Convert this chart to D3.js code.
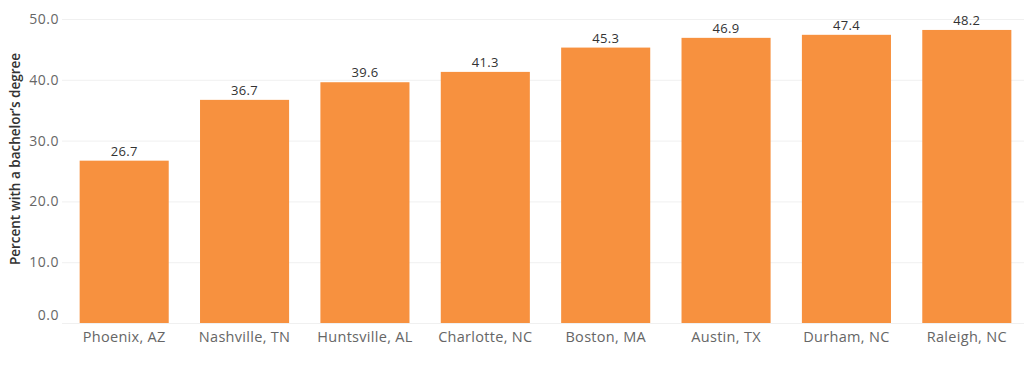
<!DOCTYPE html>
<html>
<head>
<meta charset="utf-8">
<script src="https://cdn.jsdelivr.net/npm/d3@7"></script>
<style>
  body { margin: 0; background: #fff; }
  #viz text { font-family: "Open Sans", "Noto Sans", sans-serif; }
</style>
</head>
<body>
<div id="viz"></div>
<script>
// data
const cities = ["Phoenix, AZ", "Nashville, TN", "Huntsville, AL", "Charlotte, NC",
                "Boston, MA", "Austin, TX", "Durham, NC", "Raleigh, NC"];
const pctBachelor = [26.7, 36.7, 39.6, 41.3, 45.3, 46.9, 47.4, 48.2];
const yTicks = [0, 10, 20, 30, 40, 50];

document.addEventListener("DOMContentLoaded", () => {
    const width = 1024;
    const height = 372;

    const svg = d3.select("#viz")
        .append("svg")
        .attr("width", width)
        .attr("height", height);

    const x = d3.scaleBand()
        .domain(cities)
        .range([64, 1027])
        .paddingInner(0.26)
        .paddingOuter(0.13);

    const y = d3.scaleLinear()
        .domain([0, 50])
        .range([323, 19]);

    // grid lines
    svg.append("g")
        .selectAll("line")
        .data(yTicks)
        .join("line")
        .attr("x1", 62)
        .attr("x2", width)
        .attr("y1", d => y(d) + 0.5)
        .attr("y2", d => y(d) + 0.5)
        .attr("stroke", "#f0f0f0")
        .attr("stroke-width", 1);

    // y axis tick labels
    const yAxis = svg.append("g")
        .attr("transform", "translate(59,0)")
        .call(d3.axisLeft(y).tickValues(yTicks).tickFormat(d3.format(".1f")).tickSize(0).tickPadding(0));
    yAxis.select(".domain").remove();
    yAxis.selectAll("text")
        .attr("fill", "#666")
        .style("font-size", "14px")
        .style("letter-spacing", "0.5px")
        .attr("dy", d => d === 0 ? "-0.25em" : "0.32em");

    // y axis title
    svg.append("text")
        .attr("transform", "translate(20,159) rotate(-90)")
        .attr("text-anchor", "middle")
        .attr("fill", "#333")
        .style("font-size", "13.5px")
        .style("font-weight", "600")
        .text("Percent with a bachelor\u2019s degree");

    // bars
    svg.append("g")
        .selectAll("rect")
        .data(cities)
        .join("rect")
        .attr("x", d => x(d))
        .attr("width", x.bandwidth())
        .attr("y", (d, i) => y(pctBachelor[i]))
        .attr("height", (d, i) => y(0) - y(pctBachelor[i]))
        .attr("fill", "#f7913f");

    // value labels
    svg.append("g")
        .selectAll("text")
        .data(cities)
        .join("text")
        .attr("x", d => x(d) + x.bandwidth() / 2)
        .attr("y", (d, i) => y(pctBachelor[i]) - 5)
        .attr("text-anchor", "middle")
        .attr("fill", "#333")
        .style("font-size", "13px")
        .style("letter-spacing", "0.3px")
        .text((d, i) => d3.format(".1f")(pctBachelor[i]));

    // x axis labels
    const xAxis = svg.append("g")
        .attr("transform", "translate(0,323)")
        .call(d3.axisBottom(x).tickSize(0).tickPadding(9));
    xAxis.select(".domain").remove();
    xAxis.selectAll("text")
        .attr("fill", "#666")
        .style("font-size", "14.5px")
        .style("letter-spacing", "0.3px");
});
</script>
</body>
</html>
